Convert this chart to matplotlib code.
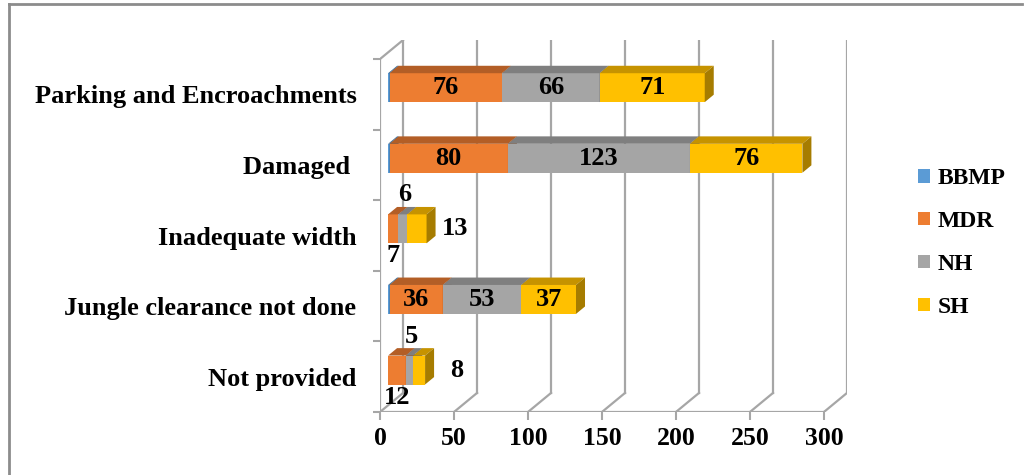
import numpy as np
import matplotlib.pyplot as plt
from matplotlib.patches import Polygon, Patch
from matplotlib.lines import Line2D

categories = ['Not provided', 'Jungle clearance not done', 'Inadequate width',
              'Damaged ', 'Parking and Encroachments']
series = ['BBMP', 'MDR', 'NH', 'SH']
bbmp = [0, 1, 0, 1, 1]
mdr = [12, 36, 7, 80, 76]
nh = [5, 53, 6, 123, 66]
sh = [8, 37, 13, 76, 71]
xticks = [0, 50, 100, 150, 200, 250, 300]

front = ['#5B9BD5', '#ED7D31', '#A5A5A5', '#FFC000']
top = ['#41719C', '#B35E26', '#7F7F7F', '#C69300']
side = ['#3A6690', '#A0531F', '#6F6F6F', '#A67C00']
grid_c = '#A6A6A6'

# offsets (pixels) for labels of the thin segments
small_off = {1: (0, -27), 2: (2, 34), 3: (38, 0)}

plt.rcParams['font.family'] = ['Liberation Serif', 'DejaVu Serif']
plt.rcParams['font.weight'] = 'bold'

fig = plt.figure(figsize=(10.26, 4.75), dpi=100)
ax = fig.add_axes([380/1026, 63/475, 467/1026, 372/475])

dx, dy = 15.6, 0.27  # depth of the 3d box in data units
ax.set_xlim(0, xticks[-1] + dx)
ax.set_ylim(-0.5, len(categories) - 0.5 + dy)
for sp in ax.spines.values():
    sp.set_visible(False)

# walls and floor
ytop = len(categories) - 0.5
for t in xticks:
    ax.plot([t + dx, t + dx], [-0.5 + dy, ytop + dy], color=grid_c, lw=1.6, zorder=1)
    ax.plot([t, t + dx], [-0.5, -0.5 + dy], color=grid_c, lw=1.6, zorder=1)
ax.plot([0, xticks[-1]], [-0.5, -0.5], color=grid_c, lw=1.6, zorder=1)
ax.plot([0, 0], [-0.5, ytop], color=grid_c, lw=1.6, zorder=1)
ax.plot([0, dx], [ytop, ytop + dy], color=grid_c, lw=1.6, zorder=1)

# axes ticks
ax.set_xticks(xticks)
ax.set_xticklabels([str(t) for t in xticks])
ax.tick_params(axis='x', length=6, width=1.5, color=grid_c, pad=5, labelsize=18.5)
ax.set_yticks(range(len(categories)))
ax.set_yticklabels(categories)
ax.set_yticks(np.arange(-0.5, len(categories), 1.0), minor=True)
ax.tick_params(axis='y', which='major', length=0, pad=17, labelsize=19)
ax.tick_params(axis='y', which='minor', length=5, width=1.5, color=grid_c)

# 3d stacked bars
data = [bbmp, mdr, nh, sh]
fx, fy = 0.35 * dx, 0.35 * dy
bx, by = 0.39 * dx, 0.39 * dy
h = 0.41
for i in range(len(categories)):
    left = fx
    yc = i + fy
    y0, y1 = yc - h / 2, yc + h / 2
    for s, vals in enumerate(data):
        v = vals[i]
        if v <= 0:
            continue
        x0, x1 = left, left + v
        ax.add_patch(Polygon([(x0, y0), (x1, y0), (x1, y1), (x0, y1)],
                             fc=front[s], ec='none', zorder=3))
        ax.add_patch(Polygon([(x0, y1), (x1, y1), (x1 + bx, y1 + by), (x0 + bx, y1 + by)],
                             fc=top[s], ec='none', zorder=3))
        ax.add_patch(Polygon([(x1, y0), (x1 + bx, y0 + by), (x1 + bx, y1 + by), (x1, y1)],
                             fc=side[s], ec='none', zorder=3))
        if s > 0:
            if v >= 15:
                ax.text((x0 + x1) / 2, yc, str(v), ha='center', va='center',
                        fontsize=19, zorder=5)
            else:
                ax.annotate(str(v), ((x0 + x1) / 2, yc), xytext=small_off[s],
                            textcoords='offset pixels', ha='center', va='center',
                            fontsize=19, zorder=5)
        left = x1

handles = [Patch(fc=c, ec='none') for c in front]
fig.legend(handles, series, loc='upper left', bbox_to_anchor=(918/1026, 1 - 168/475),
           frameon=False, fontsize=17, handlelength=0.52, handleheight=0.52,
           handletextpad=0.3, labelspacing=0.93, borderaxespad=0, borderpad=0)

# outer frame of the chart area
fig.add_artist(Line2D([9/1026, 9/1026], [0, 1 - 4/475], transform=fig.transFigure,
                      color='#8C8C8C', lw=2))
fig.add_artist(Line2D([9/1026, 1022/1026], [1 - 4/475, 1 - 4/475], transform=fig.transFigure,
                      color='#8C8C8C', lw=2))

fig.savefig('out.png', dpi=100)
